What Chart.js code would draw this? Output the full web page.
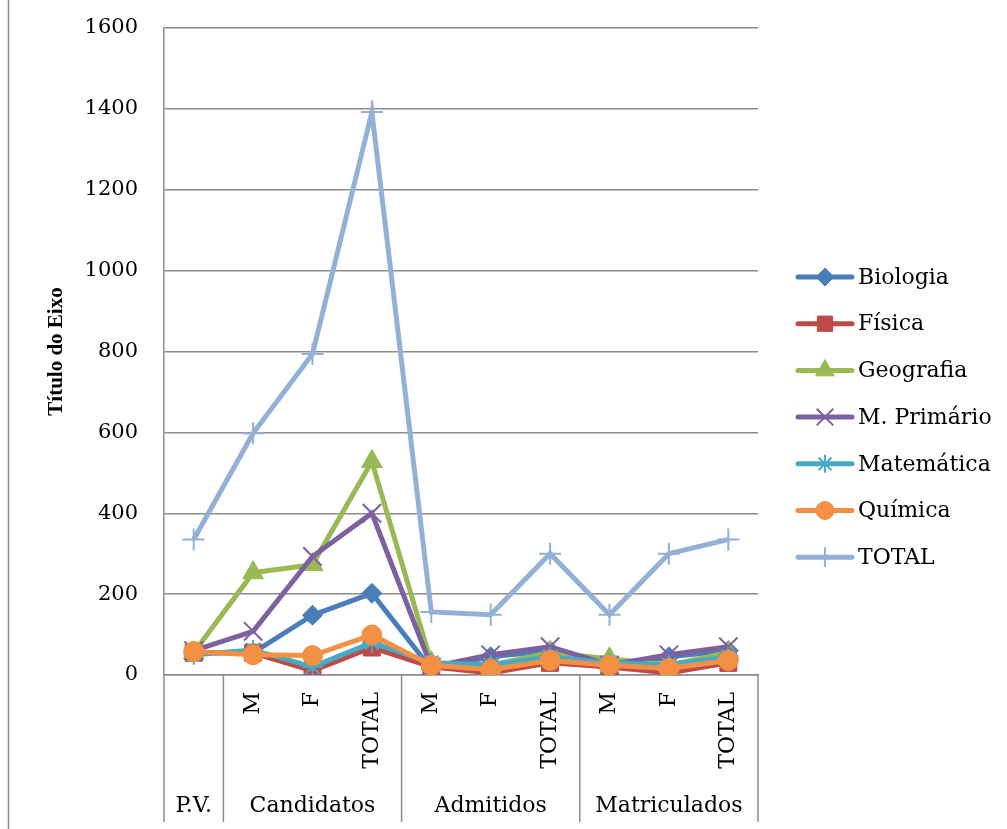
<!DOCTYPE html>
<html>
<head>
<meta charset="utf-8">
<script src="https://cdn.jsdelivr.net/npm/chart.js@4.4.1/dist/chart.umd.min.js"></script>
<style>
  html, body { margin: 0; padding: 0; background: #fff; }
  #wrap { position: relative; width: 1007px; height: 829px; }
</style>
</head>
<body>
<div id="wrap"><canvas id="myChart"></canvas></div>
<script>
// categories (sub labels) and their groups
const subLabels = ['', 'M', 'F', 'TOTAL', 'M', 'F', 'TOTAL', 'M', 'F', 'TOTAL'];
const groupNames = ['P.V.', 'Candidatos', 'Admitidos', 'Matriculados'];
const groupSizes = [1, 3, 3, 3];
const yTicks = [0, 200, 400, 600, 800, 1000, 1200, 1400, 1600];

// series values
const biologia   = [55, 55, 148, 202, 15, 45, 60, 15, 45, 60];
const fisica     = [55, 55, 10, 68, 20, 5, 30, 20, 5, 30];
const geografia  = [55, 253, 273, 528, 30, 25, 55, 40, 25, 55];
const mPrimario  = [60, 108, 293, 400, 20, 50, 70, 25, 50, 70];
const matematica = [50, 62, 20, 80, 30, 25, 45, 30, 25, 45];
const quimica    = [58, 50, 48, 99, 24, 13, 36, 24, 16, 36];
const total      = [335, 598, 794, 1392, 156, 149, 300, 149, 300, 335];

const serif = '"DejaVu Serif", serif';
const gray = '#8c8c8c';

function series(label, data, color, style, radius, i) {
    return {
        label: label,
        data: data,
        borderColor: color,
        backgroundColor: color,
        pointBackgroundColor: color,
        pointBorderColor: color,
        borderWidth: 5,
        pointStyle: style,
        pointRadius: radius,
        pointHoverRadius: radius,
        pointBorderWidth: (style === 'crossRot' || style === 'cross' || style === 'star') ? 2 : 1,
        tension: 0,
        order: 7 - i
    };
}

const datasets = [
    series('Biologia', biologia, '#4a7ebb', 'rectRot', 10, 0),
    series('Física', fisica, '#be4b48', 'rect', 12, 1),
    series('Geografia', geografia, '#98b954', 'triangle', 12, 2),
    series('M. Primário', mPrimario, '#7d60a0', 'crossRot', 13, 3),
    series('Matemática', matematica, '#46aac5', 'star', 10, 4),
    series('Química', quimica, '#f39043', 'circle', 10, 5),
    series('TOTAL', total, '#93b0d6', 'cross', 11, 6)
];

// frame line on the left
const framePlugin = {
    id: 'frame',
    beforeDraw(chart) {
        const ctx = chart.ctx;
        ctx.save();
        ctx.strokeStyle = gray;
        ctx.lineWidth = 1.5;
        ctx.beginPath();
        ctx.moveTo(8.5, 0);
        ctx.lineTo(8.5, 829);
        ctx.stroke();
        ctx.restore();
    }
};

// two level category axis drawn under the plot
const tablePlugin = {
    id: 'catTable',
    afterDraw(chart) {
        const ctx = chart.ctx;
        const x = chart.scales.x;
        const area = chart.chartArea;
        const half = (x.getPixelForValue(1) - x.getPixelForValue(0)) / 2;
        const bottom = 822;
        ctx.save();
        ctx.strokeStyle = gray;
        ctx.lineWidth = 1.5;
        ctx.fillStyle = '#000';
        let idx = 0;
        groupNames.forEach((name, g) => {
            const x0 = x.getPixelForValue(idx) - half;
            const x1 = x.getPixelForValue(idx + groupSizes[g] - 1) + half;
            ctx.beginPath();
            ctx.moveTo(x0, area.bottom);
            ctx.lineTo(x0, bottom);
            if (g === groupNames.length - 1) {
                ctx.moveTo(x1, area.bottom);
                ctx.lineTo(x1, bottom);
            }
            ctx.stroke();
            ctx.font = '22px ' + serif;
            ctx.textAlign = 'center';
            ctx.textBaseline = 'middle';
            ctx.fillText(name, (x0 + x1) / 2, 806);
            idx += groupSizes[g];
        });
        subLabels.forEach((lab, i) => {
            if (!lab) return;
            const px = x.getPixelForValue(i);
            ctx.save();
            ctx.translate(px, area.bottom + 17);
            ctx.rotate(-Math.PI / 2);
            ctx.font = '22px ' + serif;
            ctx.textAlign = 'right';
            ctx.textBaseline = 'middle';
            ctx.fillText(lab, 0, 0);
            ctx.restore();
        });
        ctx.restore();
    }
};

// legend with line and marker, like the spreadsheet one
const legendPlugin = {
    id: 'sideLegend',
    afterDraw(chart) {
        const ctx = chart.ctx;
        const x0 = 798, x1 = 852, y0 = 277, step = 46.7;
        ctx.save();
        chart.data.datasets.forEach((ds, i) => {
            const y = y0 + i * step;
            ctx.strokeStyle = ds.borderColor;
            ctx.lineWidth = 5;
            ctx.lineCap = 'round';
            ctx.beginPath();
            ctx.moveTo(x0, y);
            ctx.lineTo(x1, y);
            ctx.stroke();
            ctx.lineCap = 'butt';
            ctx.fillStyle = ds.pointBackgroundColor;
            ctx.strokeStyle = ds.pointBorderColor;
            ctx.lineWidth = ds.pointBorderWidth;
            Chart.helpers.drawPoint(ctx, {
                pointStyle: ds.pointStyle,
                radius: ds.pointRadius * 0.9,
                rotation: 0,
                borderWidth: ds.pointBorderWidth
            }, (x0 + x1) / 2, y);
            ctx.fillStyle = '#000';
            ctx.font = '22px ' + serif;
            ctx.textAlign = 'left';
            ctx.textBaseline = 'middle';
            ctx.fillText(ds.label, 858, y + 1);
        });
        ctx.restore();
    }
};

const ctx = document.getElementById('myChart').getContext('2d');
const myChart = new Chart(ctx, {
    type: 'line',
    data: {
        labels: subLabels,
        datasets: datasets
    },
    options: {
        responsive: true,
        maintainAspectRatio: false,
        animation: false,
        layout: {
            padding: { left: 0, right: 249, top: 28, bottom: 0 }
        },
        plugins: {
            legend: { display: false },
            tooltip: { enabled: false }
        },
        scales: {
            x: {
                offset: true,
                grid: { display: false, offset: true },
                border: { display: true, color: gray, width: 1.5 },
                ticks: { display: false },
                afterFit(scale) { scale.height = 154; }
            },
            y: {
                min: 0,
                max: 1600,
                afterBuildTicks(scale) { scale.ticks = yTicks.map(v => ({ value: v })); },
                grid: { color: gray, lineWidth: 1.5, drawTicks: true, tickLength: 26, tickColor: 'rgba(0,0,0,0)' },
                border: { display: true, color: gray, width: 1.5 },
                ticks: {
                    padding: 0,
                    color: '#000',
                    font: { family: serif, size: 21 },
                    callback: (v) => String(v)
                },
                title: {
                    display: true,
                    text: 'Título do Eixo',
                    color: '#000',
                    font: { family: '"Liberation Serif", serif', size: 21, weight: 'bold' },
                    padding: { top: 44, bottom: 0 }
                },
                afterFit(scale) { scale.width = 164; }
            }
        }
    },
    plugins: [framePlugin, tablePlugin, legendPlugin]
});
</script>
</body>
</html>
